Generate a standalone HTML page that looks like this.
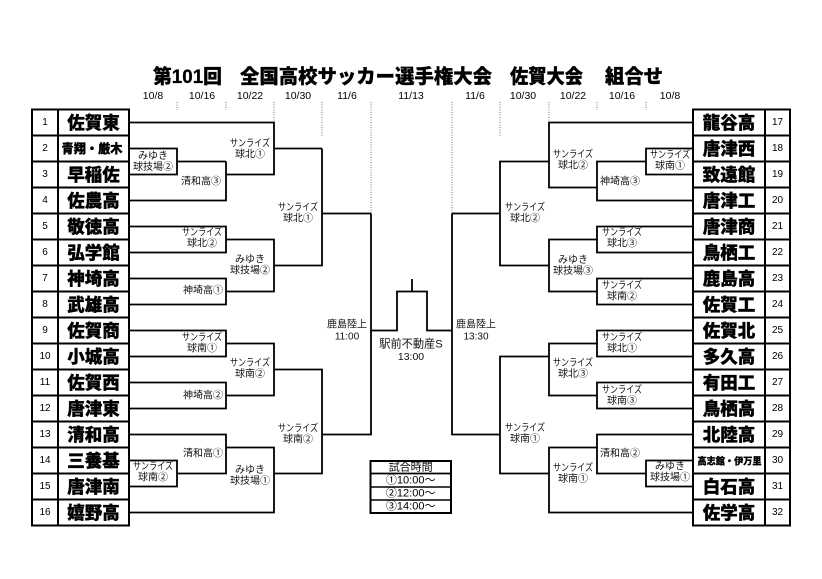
<!DOCTYPE html>
<html><head><meta charset="utf-8"><style>
html,body{margin:0;padding:0;background:#fff;}
svg{display:block;}
text{font-family:"Liberation Sans","Noto Sans CJK JP",sans-serif;}
.n{font-size:17.5px;font-weight:900;fill:#000;stroke:#000;stroke-width:0.35;}
.num{font-size:10px;fill:#000;}
.lb{font-size:10px;fill:#111;}
.dt{font-size:10.5px;fill:#000;}
.tt{font-size:19.5px;font-weight:900;fill:#000;stroke:#000;stroke-width:0.3;}
</style></head><body>
<svg width="822" height="579" viewBox="0 0 822 579" xmlns="http://www.w3.org/2000/svg">
<rect width="822" height="579" fill="#fff"/>
<!-- title -->
<g class="tt" dominant-baseline="central">
<text x="153" y="77" textLength="69" lengthAdjust="spacingAndGlyphs">第101回</text>
<text x="240" y="77" textLength="252" lengthAdjust="spacingAndGlyphs">全国高校サッカー選手権大会</text>
<text x="510" y="77" textLength="73" lengthAdjust="spacingAndGlyphs">佐賀大会</text>
<text x="605" y="77" textLength="58" lengthAdjust="spacingAndGlyphs">組合せ</text>
</g>
<!-- dates -->
<g class="dt" text-anchor="middle" dominant-baseline="central">
<text x="153" y="96">10/8</text><text x="202" y="96">10/16</text><text x="250" y="96">10/22</text>
<text x="298" y="96">10/30</text><text x="347" y="96">11/6</text><text x="411" y="96">11/13</text>
<text x="475" y="96">11/6</text><text x="523" y="96">10/30</text><text x="573" y="96">10/22</text>
<text x="622" y="96">10/16</text><text x="670" y="96">10/8</text>
</g>
<!-- dotted guides -->
<g stroke="#777" stroke-width="1" stroke-dasharray="1 1.5" fill="none">
<path d="M177 102V110M226 102V110M274 102V122M322 102V136M371 102V213"/>
<path d="M452 102V213M500 102V136M549 102V122M597 102V110M646 102V110"/>
</g>
<!-- tables -->
<g fill="none" stroke="#000" stroke-width="2">
<rect x="32" y="109.5" width="97" height="416"/>
<path d="M58 109.5V525.5"/>
<path d="M32 135.5H129M32 161.5H129M32 187.5H129M32 213.5H129M32 239.5H129M32 265.5H129M32 291.5H129M32 317.5H129M32 343.5H129M32 369.5H129M32 395.5H129M32 421.5H129M32 447.5H129M32 473.5H129M32 499.5H129"/>
<rect x="693" y="109.5" width="97" height="416"/>
<path d="M765 109.5V525.5"/>
<path d="M693 135.5H790M693 161.5H790M693 187.5H790M693 213.5H790M693 239.5H790M693 265.5H790M693 291.5H790M693 317.5H790M693 343.5H790M693 369.5H790M693 395.5H790M693 421.5H790M693 447.5H790M693 473.5H790M693 499.5H790"/>
</g>
<!-- bracket lines -->
<g fill="none" stroke="#000" stroke-width="1.8" stroke-linejoin="miter">
<!-- left -->
<path d="M129 122.5H274V174.5H226"/>
<path d="M274 148.5H322"/>
<path d="M129 148.5H177V174.5H129"/>
<path d="M177 161.5H226"/>
<path d="M129 200.5H226V161.5"/>
<path d="M322 148.5V265.5H274"/>
<path d="M322 213.5H371"/>
<path d="M129 226.5H226V252.5H129"/>
<path d="M226 239.5H274V291.5H226"/>
<path d="M129 278.5H226V304.5H129"/>
<path d="M129 330.5H226V356.5H129"/>
<path d="M226 343.5H274V395.5H226"/>
<path d="M129 382.5H226V408.5H129"/>
<path d="M274 369.5H322V473.5H274"/>
<path d="M129 434.5H226V473.5H177"/>
<path d="M129 460.5H177V486.5H129"/>
<path d="M226 447.5H274V512.5H129"/>
<path d="M322 434.5H371V213.5"/>
<!-- final -->
<path d="M371 330.5H397V291.5H427V330.5H452"/>
<path d="M412 279V291.5"/>
<!-- right -->
<path d="M693 122.5H549V187.5H597"/>
<path d="M693 148.5H646V174.5H693"/>
<path d="M646 161.5H597V200.5H693"/>
<path d="M549 161.5H500V265.5H549"/>
<path d="M500 213.5H452"/>
<path d="M693 226.5H597V252.5H693"/>
<path d="M597 239.5H549V291.5H597"/>
<path d="M693 278.5H597V304.5H693"/>
<path d="M693 330.5H597V356.5H693"/>
<path d="M597 343.5H549V395.5H597"/>
<path d="M693 382.5H597V408.5H693"/>
<path d="M549 356.5H500V473.5H549"/>
<path d="M693 434.5H597V473.5H646"/>
<path d="M693 460.5H646V486.5H693"/>
<path d="M597 447.5H549V512.5H693"/>
<path d="M500 434.5H452V213.5"/>
</g>
<!-- numbers -->
<g class="num" text-anchor="middle" dominant-baseline="central">
<text x="45" y="122.5">1</text><text x="45" y="148.5">2</text><text x="45" y="174.5">3</text><text x="45" y="200.5">4</text>
<text x="45" y="226.5">5</text><text x="45" y="252.5">6</text><text x="45" y="278.5">7</text><text x="45" y="304.5">8</text>
<text x="45" y="330.5">9</text><text x="45" y="356.5">10</text><text x="45" y="382.5">11</text><text x="45" y="408.5">12</text>
<text x="45" y="434.5">13</text><text x="45" y="460.5">14</text><text x="45" y="486.5">15</text><text x="45" y="512.5">16</text>
<text x="777.5" y="122.5">17</text><text x="777.5" y="148.5">18</text><text x="777.5" y="174.5">19</text><text x="777.5" y="200.5">20</text>
<text x="777.5" y="226.5">21</text><text x="777.5" y="252.5">22</text><text x="777.5" y="278.5">23</text><text x="777.5" y="304.5">24</text>
<text x="777.5" y="330.5">25</text><text x="777.5" y="356.5">26</text><text x="777.5" y="382.5">27</text><text x="777.5" y="408.5">28</text>
<text x="777.5" y="434.5">29</text><text x="777.5" y="460.5">30</text><text x="777.5" y="486.5">31</text><text x="777.5" y="512.5">32</text>
</g>
<!-- names -->
<g class="n" text-anchor="middle" dominant-baseline="central">
<text x="93.5" y="123">佐賀東</text>
<text x="92" y="149" style="font-size:12.4px" textLength="61" lengthAdjust="spacingAndGlyphs">青翔・厳木</text>
<text x="93.5" y="175">早稲佐</text><text x="93.5" y="201">佐農高</text>
<text x="93.5" y="227">敬徳高</text><text x="93.5" y="253">弘学館</text><text x="93.5" y="279">神埼高</text><text x="93.5" y="305">武雄高</text>
<text x="93.5" y="331">佐賀商</text><text x="93.5" y="357">小城高</text><text x="93.5" y="383">佐賀西</text><text x="93.5" y="409">唐津東</text>
<text x="93.5" y="435">清和高</text><text x="93.5" y="461">三養基</text><text x="93.5" y="487">唐津南</text><text x="93.5" y="513">嬉野高</text>
<text x="729" y="123">龍谷高</text><text x="729" y="149">唐津西</text><text x="729" y="175">致遠館</text><text x="729" y="201">唐津工</text>
<text x="729" y="227">唐津商</text><text x="729" y="253">鳥栖工</text><text x="729" y="279">鹿島高</text><text x="729" y="305">佐賀工</text>
<text x="729" y="331">佐賀北</text><text x="729" y="357">多久高</text><text x="729" y="383">有田工</text><text x="729" y="409">鳥栖高</text>
<text x="729" y="435">北陸高</text>
<text x="729.5" y="461" style="font-size:9.4px;stroke-width:0.25" textLength="64" lengthAdjust="spacingAndGlyphs">高志館・伊万里</text>
<text x="729" y="487">白石高</text><text x="729" y="513">佐学高</text>
</g>
<!-- labels -->
<g class="lb" text-anchor="middle" dominant-baseline="central">
<!-- left -->
<text x="153" y="156.5">みゆき</text><text x="153" y="167.5">球技場②</text>
<text x="201" y="182">清和高③</text>
<text x="250" y="144" textLength="40" lengthAdjust="spacingAndGlyphs">サンライズ</text><text x="250" y="155">球北①</text>
<text x="298" y="208" textLength="40" lengthAdjust="spacingAndGlyphs">サンライズ</text><text x="298" y="219">球北①</text>
<text x="202" y="233" textLength="40" lengthAdjust="spacingAndGlyphs">サンライズ</text><text x="202" y="244">球北②</text>
<text x="250" y="260">みゆき</text><text x="250" y="271">球技場②</text>
<text x="203" y="291">神埼高①</text>
<text x="202" y="338" textLength="40" lengthAdjust="spacingAndGlyphs">サンライズ</text><text x="202" y="349">球南①</text>
<text x="250" y="363.5" textLength="40" lengthAdjust="spacingAndGlyphs">サンライズ</text><text x="250" y="374.5">球南②</text>
<text x="203" y="396">神埼高②</text>
<text x="298" y="429" textLength="40" lengthAdjust="spacingAndGlyphs">サンライズ</text><text x="298" y="440">球南②</text>
<text x="203" y="454">清和高①</text>
<text x="153" y="467" textLength="40" lengthAdjust="spacingAndGlyphs">サンライズ</text><text x="153" y="478">球南②</text>
<text x="250" y="470.5">みゆき</text><text x="250" y="481.5">球技場①</text>
<!-- right -->
<text x="573" y="155" textLength="40" lengthAdjust="spacingAndGlyphs">サンライズ</text><text x="573" y="166">球北②</text>
<text x="670" y="155.5" textLength="40" lengthAdjust="spacingAndGlyphs">サンライズ</text><text x="670" y="166.5">球南①</text>
<text x="620" y="182">神埼高③</text>
<text x="525" y="208" textLength="40" lengthAdjust="spacingAndGlyphs">サンライズ</text><text x="525" y="219">球北②</text>
<text x="622" y="233" textLength="40" lengthAdjust="spacingAndGlyphs">サンライズ</text><text x="622" y="244">球北③</text>
<text x="573" y="260.5">みゆき</text><text x="573" y="271.5">球技場③</text>
<text x="622" y="286" textLength="40" lengthAdjust="spacingAndGlyphs">サンライズ</text><text x="622" y="297">球南②</text>
<text x="622" y="338" textLength="40" lengthAdjust="spacingAndGlyphs">サンライズ</text><text x="622" y="349">球北①</text>
<text x="573" y="363.5" textLength="40" lengthAdjust="spacingAndGlyphs">サンライズ</text><text x="573" y="374.5">球北③</text>
<text x="622" y="390.5" textLength="40" lengthAdjust="spacingAndGlyphs">サンライズ</text><text x="622" y="401.5">球南③</text>
<text x="525" y="428.5" textLength="40" lengthAdjust="spacingAndGlyphs">サンライズ</text><text x="525" y="439.5">球南①</text>
<text x="620" y="454">清和高②</text>
<text x="670" y="467">みゆき</text><text x="670" y="478">球技場①</text>
<text x="573" y="468.5" textLength="40" lengthAdjust="spacingAndGlyphs">サンライズ</text><text x="573" y="479.5">球南①</text>
<!-- center -->
<text x="347" y="325">鹿島陸上</text><text x="347" y="337">11:00</text>
<text x="476" y="325">鹿島陸上</text><text x="476" y="337">13:30</text>
<text x="411" y="344.5" style="font-size:11.2px">駅前不動産S</text><text x="411" y="357" style="font-size:10.5px">13:00</text>
</g>
<!-- time table -->
<g fill="none" stroke="#000">
<rect x="370.5" y="461" width="80.5" height="52" stroke-width="2"/>
<path d="M370.5 473.5H451" stroke-width="1.8"/>
<path d="M370.5 487H451M370.5 500H451" stroke-width="1.5"/>
</g>
<g text-anchor="middle" dominant-baseline="central" fill="#000" style="font-size:11px">
<text x="410.7" y="467.5">試合時間</text>
<text x="410.7" y="480.5">①10:00～</text>
<text x="410.7" y="493.5">②12:00～</text>
<text x="410.7" y="506.5">③14:00～</text>
</g>
</svg>
</body></html>
